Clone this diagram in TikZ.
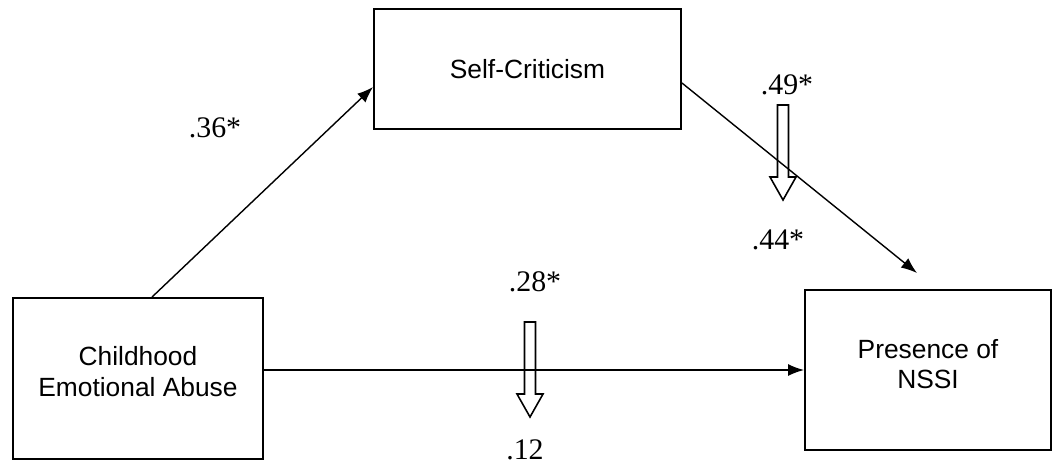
\documentclass[tikz,border=0pt]{standalone}
\usepackage{fontspec}
\setmainfont{Liberation Serif}
\setsansfont{Liberation Sans}
\usetikzlibrary{positioning, calc, arrows.meta}

\begin{document}
\begin{tikzpicture}[x=0.02cm, y=-0.02cm,
    box/.style={draw, line width=1.1pt, inner sep=0pt, align=center,
        font=\sffamily\fontsize{15}{17.5}\selectfont},
    coef/.style={inner sep=0pt, font=\fontsize{17}{20}\selectfont},
    path/.style={line width=0.8pt, -{Latex[length=0.32cm, width=0.24cm]}},
    hollow/.pic={\draw[line width=0.9pt] (-5.5,0) -- (5.5,0) -- (5.5,72)
        -- (13,72) -- (0,95) -- (-13,72) -- (-5.5,72) -- cycle;}]

    \useasboundingbox (0,0) rectangle (1053,464);

    % The three variables
    \node[box, minimum width=307*0.02cm, minimum height=120*0.02cm] (sc) at (527.5,69) {Self-Criticism};
    \node[box, minimum width=250*0.02cm, minimum height=161*0.02cm, text depth=8pt] (cea) at (138,378.5) {Childhood\\Emotional Abuse};
    \node[box, minimum width=246*0.02cm, minimum height=160*0.02cm, text depth=7pt] (nssi) at (928,370) {Presence of\\NSSI};

    % Paths between them
    \coordinate (tip) at (917,273);
    \draw[path] ($(cea.north)+(14,0)$) -- ($(sc.west)+(0,18)$);
    \draw[path] ($(sc.east)+(0,14)$) -- (tip);
    \draw[path] (cea.east |- nssi.west) -- (nssi.west);

    % Coefficients, before and after
    \node[coef] (a) at (215,128) {.36*};
    \node[coef] (b1) at (787,85) {.49*};
    \node[coef] (b2) at (778,240) {.44*};
    \node[coef] (c1) at (535,282) {.28*};
    \node[coef] (c2) at (525,450) {.12};

    % Hollow arrows
    \pic at (783,105) {hollow};
    \pic at (530,322) {hollow};
\end{tikzpicture}
\end{document}
